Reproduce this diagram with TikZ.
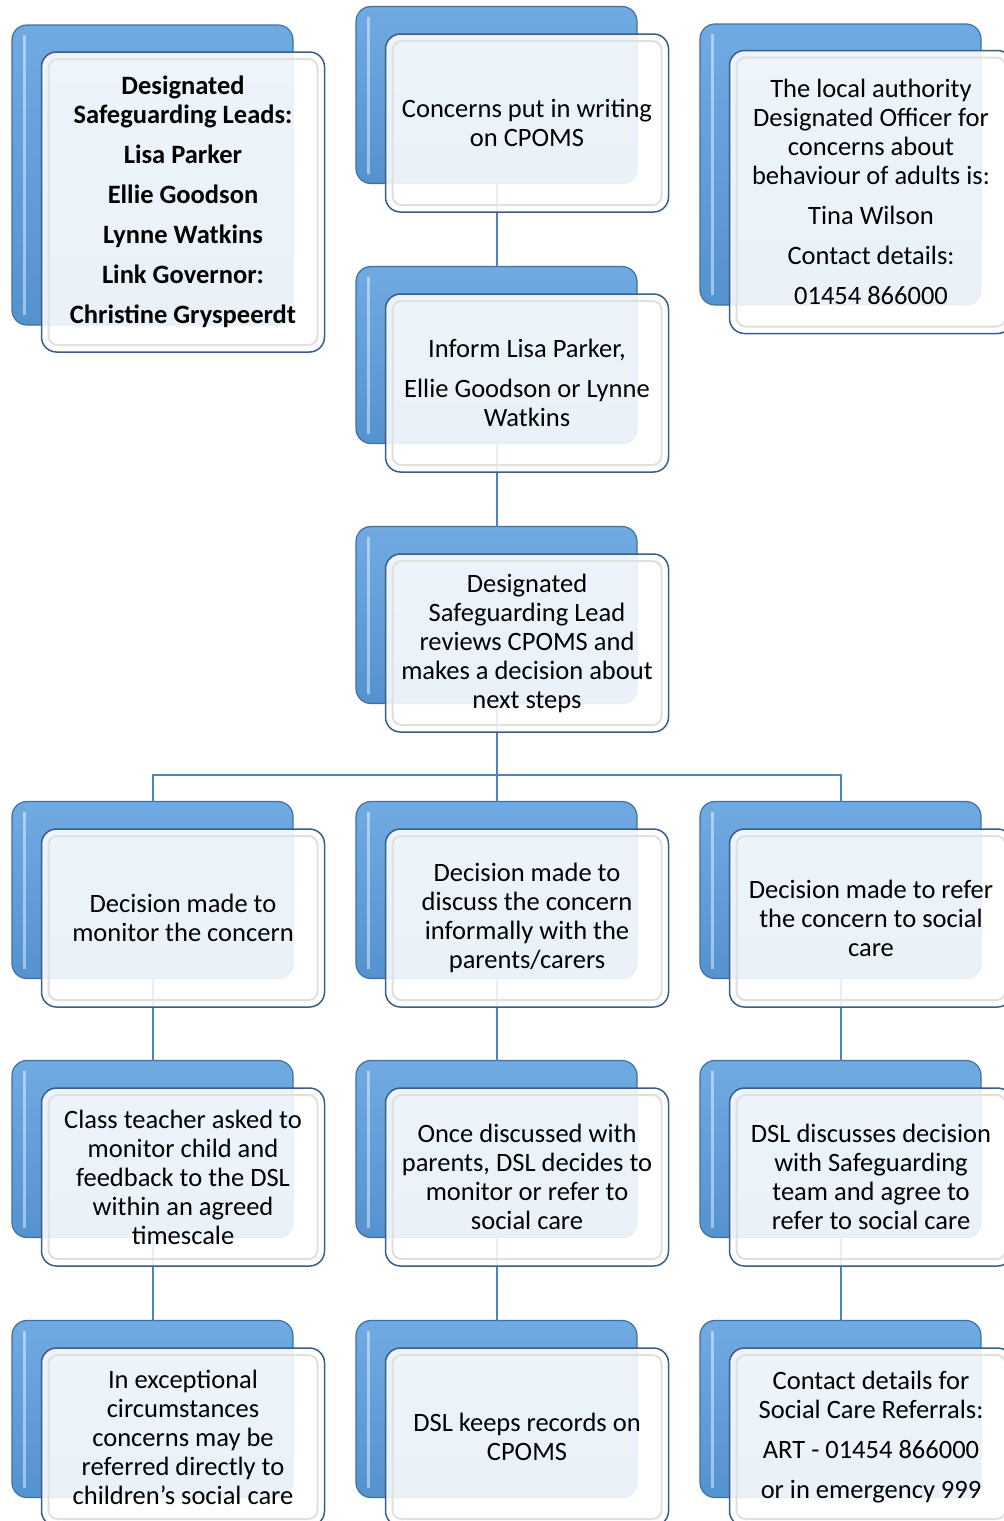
\documentclass[tikz,border=0pt]{standalone}
\usepackage{fontspec}
\setmainfont{Carlito}
\definecolor{boxblue}{RGB}{84,146,208}
\definecolor{boxlight}{RGB}{112,170,226}
\definecolor{boxedge}{RGB}{65,113,160}
\definecolor{frontedge}{RGB}{56,93,138}
\definecolor{linkblue}{RGB}{79,129,189}
\tikzset{
  backbox/.style={rounded corners=15pt, draw=boxedge, line width=1.2pt,
    top color=boxlight, bottom color=boxblue,
    minimum width=281pt, minimum height=177pt, inner sep=0pt, outer sep=0pt,
    path picture={\draw[white, opacity=0.45, line width=3pt, rounded corners=10pt]
      ([xshift=12pt,yshift=-10pt]path picture bounding box.north west) --
      ([xshift=12pt,yshift=10pt]path picture bounding box.south west);}},
  frontbox/.style={rounded corners=15pt, draw=frontedge, line width=1.5pt,
    fill=white, fill opacity=0.88, text opacity=1,
    minimum width=283pt, minimum height=178pt, inner sep=0pt, align=center,
    font=\fontsize{26.5}{29}\selectfont,
    path picture={\draw[black!12, line width=2pt, rounded corners=9pt]
      ([xshift=7pt,yshift=-7pt]path picture bounding box.north west) rectangle
      ([xshift=-7pt,yshift=7pt]path picture bounding box.south east);}},
  link/.style={draw=linkblue, line width=2pt}
}
\begin{document}
\begin{tikzpicture}[x=1pt,y=-1pt]
\useasboundingbox (0,0) rectangle (1004,1521);
\clip (0,0) rectangle (1004,1521);

% back boxes
\node[backbox, minimum height=300pt] (leadsB) at (152.5,175) {};
\node[backbox] (writingB) at (496.5,95) {};
\node[backbox, minimum height=281pt] (officerB) at (840.5,164.5) {};
\node[backbox] (informB) at (496.5,355) {};
\node[backbox] (reviewB) at (496.5,615) {};
\node[backbox] (monitorB) at (152.5,890) {};
\node[backbox] (discussB) at (496.5,890) {};
\node[backbox] (referB) at (840.5,890) {};
\node[backbox] (teacherB) at (152.5,1149) {};
\node[backbox] (parentsB) at (496.5,1149) {};
\node[backbox] (teamB) at (840.5,1149) {};
\node[backbox] (exceptB) at (152.5,1409) {};
\node[backbox] (recordsB) at (496.5,1409) {};
\node[backbox] (contactB) at (840.5,1409) {};

% links
\coordinate (split) at (496.5,775);
\draw[link] (writingB.south) -- (informB.north);
\draw[link] (informB.south) -- (reviewB.north);
\draw[link] (reviewB.south) -- (discussB.north);
\draw[link] (monitorB.north) |- (split) -| (referB.north);
\draw[link] (monitorB.south) -- (teacherB.north);
\draw[link] (teacherB.south) -- (exceptB.north);
\draw[link] (discussB.south) -- (parentsB.north);
\draw[link] (parentsB.south) -- (recordsB.north);
\draw[link] (referB.south) -- (teamB.north);
\draw[link] (teamB.south) -- (contactB.north);

% front boxes
\node[frontbox, minimum height=300pt, font=\fontsize{26.5}{29}\selectfont\bfseries] (leads) at (183,202)
  {Designated\\Safeguarding Leads:\\[11pt]Lisa Parker\\[11pt]Ellie Goodson\\[11pt]Lynne Watkins\\[11pt]Link Governor:\\[11pt]Christine Gryspeerdt};
\node[frontbox] (writing) at (527,123) {Concerns put in writing\\on CPOMS};
\node[frontbox, minimum height=283pt] (officer) at (871,192)
  {The local authority\\Designated Officer for\\concerns about\\behaviour of adults is:\\[11pt]Tina Wilson\\[11pt]Contact details:\\[11pt]01454 866000};
\node[frontbox] (inform) at (527,383) {Inform Lisa Parker,\\[11pt]Ellie Goodson or Lynne\\Watkins};
\node[frontbox] (review) at (527,643) {Designated\\Safeguarding Lead\\reviews CPOMS and\\makes a decision about\\next steps};
\node[frontbox] (monitor) at (183,918) {Decision made to\\monitor the concern};
\node[frontbox] (discuss) at (527,918) {Decision made to\\discuss the concern\\informally with the\\parents/carers};
\node[frontbox] (refer) at (871,918) {Decision made to refer\\the concern to social\\care};
\node[frontbox] (teacher) at (183,1177) {Class teacher asked to\\monitor child and\\feedback to the DSL\\within an agreed\\timescale};
\node[frontbox] (parents) at (527,1177) {Once discussed with\\parents, DSL decides to\\monitor or refer to\\social care};
\node[frontbox] (team) at (871,1177) {DSL discusses decision\\with Safeguarding\\team and agree to\\refer to social care};
\node[frontbox] (except) at (183,1437) {In exceptional\\circumstances\\concerns may be\\referred directly to\\children's social care};
\node[frontbox] (records) at (527,1437) {DSL keeps records on\\CPOMS};
\node[frontbox] (contact) at (871,1437) {Contact details for\\Social Care Referrals:\\[11pt]ART - 01454 866000\\[11pt]or in emergency 999};

\end{tikzpicture}
\end{document}
